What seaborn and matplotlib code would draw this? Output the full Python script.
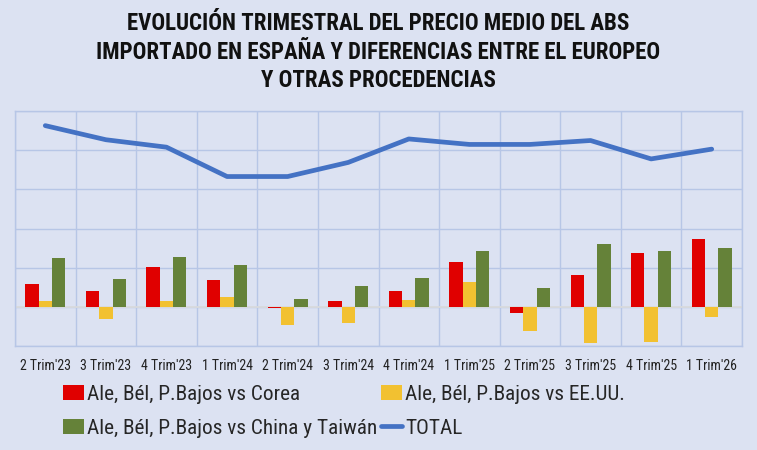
import numpy as np
import pandas as pd
import matplotlib
matplotlib.use("Agg")
import matplotlib.pyplot as plt
import seaborn as sns
from matplotlib import font_manager

trimestres = ["2 Trim'23", "3 Trim'23", "4 Trim'23", "1 Trim'24", "2 Trim'24", "3 Trim'24",
              "4 Trim'24", "1 Trim'25", "2 Trim'25", "3 Trim'25", "4 Trim'25", "1 Trim'26"]
series = ["Ale, Bél, P.Bajos vs Corea", "Ale, Bél, P.Bajos vs EE.UU.",
          "Ale, Bél, P.Bajos vs China y Taiwán"]
vs_corea = [0.58, 0.41, 1.01, 0.68, -0.03, 0.15, 0.41, 1.14, -0.15, 0.81, 1.37, 1.74]
vs_eeuu = [0.15, -0.32, 0.15, 0.25, -0.47, -0.40, 0.17, 0.64, -0.62, -0.92, -0.89, -0.26]
vs_china = [1.24, 0.70, 1.27, 1.07, 0.21, 0.54, 0.74, 1.44, 0.47, 1.61, 1.44, 1.50]
total = [4.63, 4.27, 4.08, 3.33, 3.33, 3.69, 4.29, 4.15, 4.15, 4.25, 3.78, 4.03]

colores = ["#E00000", "#F2C131", "#658239"]
bg = "#DCE2F2"
grid_c = "#B7C6E6"

df = pd.DataFrame({
    "trimestre": trimestres * 3,
    "serie": np.repeat(series, len(trimestres)),
    "valor": vs_corea + vs_eeuu + vs_china,
})

# fuente estrecha si existe (el original usa Calibri)
names = {f.name for f in font_manager.fontManager.ttflist}
fam = "Liberation Sans"
for cand in ["Roboto Condensed", "Liberation Sans Narrow", "Open Sans Condensed", "Lato"]:
    if cand in names:
        fam = cand
        break
sns.set_style("white")
plt.rcParams["font.family"] = [fam, "DejaVu Sans"]

fig = plt.figure(figsize=(7.57, 4.5), dpi=100, facecolor=bg)
ax = fig.add_axes([0.0198, 0.231, 0.9604, 0.522])
ax.set_facecolor(bg)

sns.barplot(data=df, x="trimestre", y="valor", hue="serie", palette=colores,
            saturation=1, width=0.66, gap=0, order=trimestres, hue_order=series,
            linewidth=0, edgecolor="none", ax=ax, zorder=3)
sns.lineplot(x=np.arange(len(trimestres)), y=total, color="#4472C4", linewidth=3.4,
             label="TOTAL", ax=ax, zorder=4)
ax.axhline(0, color="#D9DADD", linewidth=1.3, zorder=2)

ax.set_xlim(-0.5, len(trimestres) - 0.5)
ax.set_ylim(-1, 5)
ax.set_yticks(range(-1, 6))
ax.set_yticklabels([])
ax.set_xticks(np.arange(-0.5, len(trimestres), 1), minor=True)
ax.grid(True, which="major", axis="y", color=grid_c, linewidth=1)
ax.grid(True, which="minor", axis="x", color=grid_c, linewidth=1)
ax.grid(False, which="major", axis="x")
ax.tick_params(axis="both", which="both", length=0)
ax.tick_params(axis="x", labelsize=10, colors="#222222", pad=9)
ax.set_xlabel("")
ax.set_ylabel("")
for s in ax.spines.values():
    s.set_color(grid_c)
    s.set_linewidth(1)

handles, labels = ax.get_legend_handles_labels()
ax.get_legend().remove()
order = [0, 2, 1, 3]
fig.legend([handles[i] for i in order], [labels[i] for i in order], ncol=2,
           loc="upper left", bbox_to_anchor=(0.083, 0.145), frameon=False,
           fontsize=15.3, handlelength=1.0, handleheight=0.7, handletextpad=0.15,
           columnspacing=0.15, labelspacing=0.7, borderaxespad=0, borderpad=0)

fig.text(0.5, 0.884, "EVOLUCIÓN TRIMESTRAL DEL PRECIO MEDIO DEL ABS\n"
         "IMPORTADO EN ESPAÑA Y DIFERENCIAS ENTRE EL EUROPEO\n"
         "Y OTRAS PROCEDENCIAS", ha="center", va="center", fontsize=16.5,
         fontweight="bold", linespacing=1.3, color="#111111")

fig.savefig("out.png", dpi=100, facecolor=bg)
